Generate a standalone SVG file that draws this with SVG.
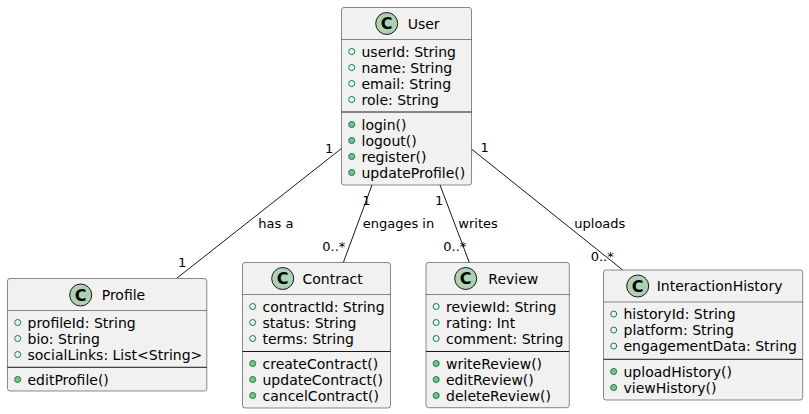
<svg xmlns="http://www.w3.org/2000/svg" width="809" height="414" viewBox="0 0 809 414">
<style>
.box{fill:#F1F1F1;stroke:#181818;stroke-width:0.5}
.sep{stroke:#181818;stroke-width:0.5}
.div{stroke:#181818;stroke-width:1}
.cc{fill:#ADD1B2;stroke:#181818;stroke-width:1}
.cl{font-family:"DejaVu Sans",sans-serif;font-size:16px;font-weight:bold;fill:#000}
.t{font-family:"DejaVu Sans",sans-serif;font-size:14px;fill:#000}
.m{font-family:"DejaVu Sans",sans-serif;font-size:14px;fill:#000}
.l{font-family:"DejaVu Sans",sans-serif;font-size:13px;fill:#000}
.fa{fill:none;stroke:#038048;stroke-width:1}
.fm{fill:#84BE84;stroke:#038048;stroke-width:1}
.e{stroke:#181818;stroke-width:1;fill:none}
</style>
<g id="connectors">
<line class="e" x1="341.7" y1="148.3" x2="176.7" y2="278.3"/>
<line class="e" x1="372" y1="185" x2="343.3" y2="262.5"/>
<line class="e" x1="440" y1="185" x2="469.3" y2="262.5"/>
<line class="e" x1="471.5" y1="149" x2="622.7" y2="270"/>
<text class="l" x="325" y="153">1</text>
<text class="l" x="178" y="267">1</text>
<text class="l" x="258.3" y="228">has a</text>
<text class="l" x="362.3" y="205">1</text>
<text class="l" x="362.7" y="228">engages in</text>
<text class="l" x="322.3" y="250.5">0..*</text>
<text class="l" x="435" y="205">1</text>
<text class="l" x="458.3" y="228">writes</text>
<text class="l" x="443.3" y="250.5">0..*</text>
<text class="l" x="480.5" y="152">1</text>
<text class="l" x="574.3" y="228">uploads</text>
<text class="l" x="590.7" y="260.5">0..*</text>
</g>
<g id="User">
<rect class="box" x="341.5" y="7.5" width="130" height="177.5" rx="2.5"/>
<circle class="cc" cx="386.7" cy="23.5" r="11"/>
<text class="cl" x="386.7" y="29.3" text-anchor="middle">C</text>
<text class="t" x="407.7" y="28.5">User</text>
<line class="sep" x1="341.5" y1="39.5" x2="471.5" y2="39.5"/>
<circle class="fa" cx="351.7" cy="51.5" r="3"/><text class="m" x="361.5" y="56.5">userId: String</text>
<circle class="fa" cx="351.7" cy="67.5" r="3"/><text class="m" x="361.5" y="72.5">name: String</text>
<circle class="fa" cx="351.7" cy="83.5" r="3"/><text class="m" x="361.5" y="88.5">email: String</text>
<circle class="fa" cx="351.7" cy="99.5" r="3"/><text class="m" x="361.5" y="104.5">role: String</text>
<line class="div" x1="341.5" y1="112" x2="471.5" y2="112"/>
<circle class="fm" cx="351.7" cy="124.5" r="3"/><text class="m" x="361.5" y="129.5">login()</text>
<circle class="fm" cx="351.7" cy="140.5" r="3"/><text class="m" x="361.5" y="145.5">logout()</text>
<circle class="fm" cx="351.7" cy="156.5" r="3"/><text class="m" x="361.5" y="161.5">register()</text>
<circle class="fm" cx="351.7" cy="172.5" r="3"/><text class="m" x="361.5" y="177.5">updateProfile()</text>
</g>
<g id="Profile">
<rect class="box" x="7.5" y="278.5" width="199.3" height="112.5" rx="2.5"/>
<circle class="cc" cx="80.7" cy="295" r="11"/>
<text class="cl" x="80.7" y="300.8" text-anchor="middle">C</text>
<text class="t" x="101.7" y="300">Profile</text>
<line class="sep" x1="7.5" y1="310.5" x2="206.8" y2="310.5"/>
<circle class="fa" cx="17.7" cy="322.5" r="3"/><text class="m" x="27.5" y="327.5">profileId: String</text>
<circle class="fa" cx="17.7" cy="338.5" r="3"/><text class="m" x="27.5" y="343.5">bio: String</text>
<circle class="fa" cx="17.7" cy="354.5" r="3"/><text class="m" x="27.5" y="359.5">socialLinks: List&lt;String&gt;</text>
<line class="div" x1="7.5" y1="367.3" x2="206.8" y2="367.3"/>
<circle class="fm" cx="17.7" cy="379.5" r="3"/><text class="m" x="27.5" y="384.5">editProfile()</text>
</g>
<g id="Contract">
<rect class="box" x="242.5" y="262.5" width="148" height="145.5" rx="2.5"/>
<circle class="cc" cx="282.7" cy="278.5" r="11"/>
<text class="cl" x="282.7" y="284.3" text-anchor="middle">C</text>
<text class="t" x="302.5" y="283.5">Contract</text>
<line class="sep" x1="242.5" y1="294.5" x2="390.5" y2="294.5"/>
<circle class="fa" cx="252.7" cy="306.5" r="3"/><text class="m" x="262.5" y="311.5">contractId: String</text>
<circle class="fa" cx="252.7" cy="322.5" r="3"/><text class="m" x="262.5" y="327.5">status: String</text>
<circle class="fa" cx="252.7" cy="338.5" r="3"/><text class="m" x="262.5" y="343.5">terms: String</text>
<line class="div" x1="242.5" y1="351.5" x2="390.5" y2="351.5"/>
<circle class="fm" cx="252.7" cy="363.5" r="3"/><text class="m" x="262.5" y="368.5">createContract()</text>
<circle class="fm" cx="252.7" cy="379.5" r="3"/><text class="m" x="262.5" y="384.5">updateContract()</text>
<circle class="fm" cx="252.7" cy="395.5" r="3"/><text class="m" x="262.5" y="400.5">cancelContract()</text>
</g>
<g id="Review">
<rect class="box" x="426" y="262.5" width="143.3" height="145.2" rx="2.5"/>
<circle class="cc" cx="465.7" cy="278.5" r="11"/>
<text class="cl" x="465.7" y="284.3" text-anchor="middle">C</text>
<text class="t" x="488.3" y="283.5">Review</text>
<line class="sep" x1="426" y1="294.5" x2="569.3" y2="294.5"/>
<circle class="fa" cx="436.2" cy="306.5" r="3"/><text class="m" x="446" y="311.5">reviewId: String</text>
<circle class="fa" cx="436.2" cy="322.5" r="3"/><text class="m" x="446" y="327.5">rating: Int</text>
<circle class="fa" cx="436.2" cy="338.5" r="3"/><text class="m" x="446" y="343.5">comment: String</text>
<line class="div" x1="426" y1="351.5" x2="569.3" y2="351.5"/>
<circle class="fm" cx="436.2" cy="363.5" r="3"/><text class="m" x="446" y="368.5">writeReview()</text>
<circle class="fm" cx="436.2" cy="379.5" r="3"/><text class="m" x="446" y="384.5">editReview()</text>
<circle class="fm" cx="436.2" cy="395.5" r="3"/><text class="m" x="446" y="400.5">deleteReview()</text>
</g>
<g id="InteractionHistory">
<rect class="box" x="603.5" y="270" width="199.2" height="130" rx="2.5"/>
<circle class="cc" cx="637.7" cy="286" r="11"/>
<text class="cl" x="637.7" y="291.8" text-anchor="middle">C</text>
<text class="t" x="656.7" y="291">InteractionHistory</text>
<line class="sep" x1="603.5" y1="302" x2="802.7" y2="302"/>
<circle class="fa" cx="613.7" cy="314" r="3"/><text class="m" x="623.5" y="319">historyId: String</text>
<circle class="fa" cx="613.7" cy="330" r="3"/><text class="m" x="623.5" y="335">platform: String</text>
<circle class="fa" cx="613.7" cy="346" r="3"/><text class="m" x="623.5" y="351">engagementData: String</text>
<line class="div" x1="603.5" y1="359.3" x2="802.7" y2="359.3"/>
<circle class="fm" cx="613.7" cy="371.5" r="3"/><text class="m" x="623.5" y="376.5">uploadHistory()</text>
<circle class="fm" cx="613.7" cy="387.5" r="3"/><text class="m" x="623.5" y="392.5">viewHistory()</text>
</g>
</svg>
